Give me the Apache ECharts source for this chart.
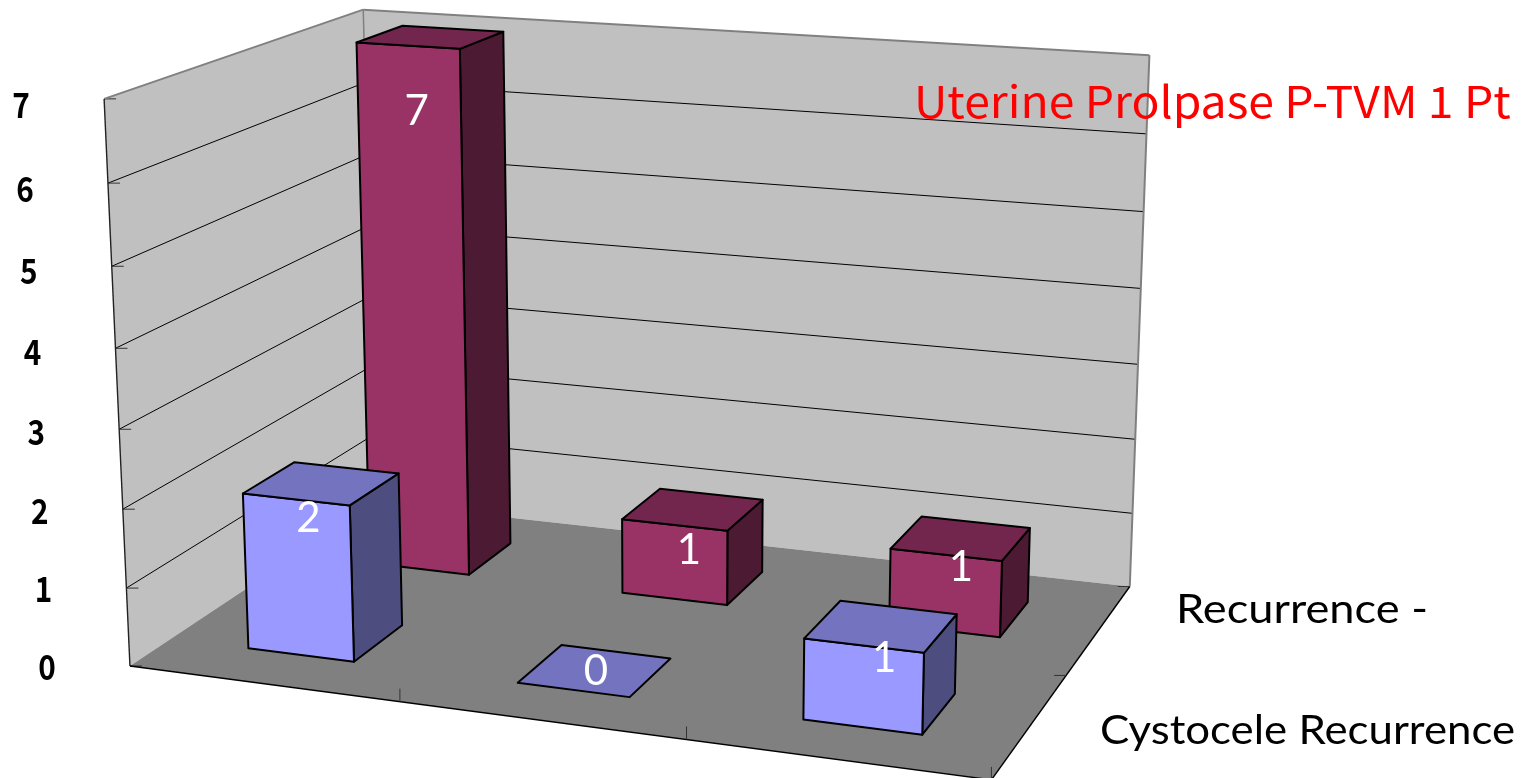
<!DOCTYPE html>
<html>
<head>
<meta charset="utf-8">
<style>html,body{margin:0;padding:0;background:#fff}#c{width:1531px;height:778px}</style>
<script src="https://cdn.jsdelivr.net/npm/echarts@6/dist/echarts.min.js"></script>
</head>
<body>
<div id="c"></div>
<script>
// ---- data ----
const seriesNames = ['Cystocele Recurrence', 'Recurrence -'];
const cystoceleValues = [2, 0, 1];
const recurrenceValues = [7, 1, 1];
const valueTicks = [0, 1, 2, 3, 4, 5, 6, 7];
const annotation = 'Uterine Prolpase P-TVM 1 Pt';

// ---- layout: camera calibration (world x=category, y=value, z=depth -> page pixels) ----
const CATS = 3, DEPTHS = 2, YMAX = 7;
const anchors = [
  [0,0,0,129,667],[1,0,0,400,702],[2,0,0,686,738],[3,0,0,992,779],
  [0,7,0,104,99],[0,6,0,108,182],[0,5,0,112,267],[0,4,0,116,349],[0,3,0,119.5,429],[0,2,0,122.5,509],[0,1,0,126.5,589],
  [0,0,2,376,501],[0,7,2,363,10],[3,0,2,1130,587],[3,7,2,1150,55],
  [3,6,2,1146,133],[3,5,2,1143,211],[3,4,2,1141,289],[3,3,2,1138,365],[3,2,2,1135,440],[3,1,2,1132.5,514]
];
function fitCamera(pts){
  const n = 11, A = [...Array(n)].map(()=>Array(n+1).fill(0));
  const add = (r,b)=>{ for(let i=0;i<n;i++){ for(let j=0;j<n;j++) A[i][j]+=r[i]*r[j]; A[i][n]+=r[i]*b; } };
  pts.forEach(([X,Y,Z,u0,v0])=>{
    const u=u0/1000, v=v0/1000;
    add([X,Y,Z,1,0,0,0,0,-u*X,-u*Y,-u*Z],u);
    add([0,0,0,0,X,Y,Z,1,-v*X,-v*Y,-v*Z],v);
  });
  for(let i=0;i<n;i++){
    let m=i; for(let k=i+1;k<n;k++) if(Math.abs(A[k][i])>Math.abs(A[m][i])) m=k;
    [A[i],A[m]]=[A[m],A[i]];
    for(let k=0;k<n;k++){ if(k===i) continue; const f=A[k][i]/A[i][i]; for(let j=i;j<=n;j++) A[k][j]-=f*A[i][j]; }
  }
  return A.map((r,i)=>r[n]/r[i]);
}
const P = fitCamera(anchors);
function pr(X,Y,Z){
  const w = P[8]*X+P[9]*Y+P[10]*Z+1;
  return [1000*(P[0]*X+P[1]*Y+P[2]*Z+P[3])/w, 1000*(P[4]*X+P[5]*Y+P[6]*Z+P[7])/w];
}
const BAR_X=[0.296,0.695], BAR_Z=[0.3,0.7];
const labelOffset = {'1_0':[-14,74],'0_0':[-13,35],'0_1':[1,1],'1_1':[-4,41],'0_2':[3,32],'1_2':[0,29]};
const palette = [
  {front:'#9999FF',top:'#7373BF',side:'#4D4D80'},
  {front:'#993366',top:'#73264D',side:'#4D1A33'}
];
const barData = [];
[recurrenceValues, cystoceleValues].forEach((vals,k)=>{
  const s = 1-k;
  vals.forEach((v,c)=>barData.push([c,s,v]));
});

const poly=(points,style)=>({type:'polygon',shape:{points},style});
const seg=(a,b,stroke,lineWidth)=>({type:'line',shape:{x1:a[0],y1:a[1],x2:b[0],y2:b[1]},style:{stroke,lineWidth,fill:null}});

function renderFrame(){
  const ch=[];
  ch.push(poly([pr(0,0,0),pr(0,YMAX,0),pr(0,YMAX,DEPTHS),pr(0,0,DEPTHS)],{fill:'#C0C0C0'}));
  ch.push(poly([pr(0,0,DEPTHS),pr(0,YMAX,DEPTHS),pr(CATS,YMAX,DEPTHS),pr(CATS,0,DEPTHS)],{fill:'#C0C0C0'}));
  ch.push(poly([pr(0,0,0),pr(CATS,0,0),pr(CATS,0,DEPTHS),pr(0,0,DEPTHS)],{fill:'#808080'}));
  valueTicks.forEach(t=>{
    if(t>0 && t<YMAX){
      ch.push(seg(pr(0,t,0),pr(0,t,DEPTHS),'#000',1));
      ch.push(seg(pr(0,t,DEPTHS),pr(CATS,t,DEPTHS),'#000',1));
    }
    const a=pr(0,t,0);
    ch.push(seg(a,[a[0]+12,a[1]],'#333',1));
  });
  const g='#808080';
  ch.push(seg(pr(0,YMAX,0),pr(0,YMAX,DEPTHS),g,2));
  ch.push(seg(pr(0,YMAX,DEPTHS),pr(CATS,YMAX,DEPTHS),g,2));
  ch.push(seg(pr(0,YMAX,DEPTHS),pr(0,0,DEPTHS),g,1.5));
  ch.push(seg(pr(CATS,YMAX,DEPTHS),pr(CATS,0,DEPTHS),g,2));
  ch.push(seg(pr(0,YMAX,0),pr(0,0,0),'#222',1.4));
  ch.push(seg(pr(0,0,0),pr(CATS,0,0),'#000',1.4));
  ch.push(seg(pr(CATS,0,0),pr(CATS,0,DEPTHS),'#000',1.4));
  for(let c=1;c<=CATS;c++){ const a=pr(c,0,0); ch.push(seg(a,[a[0],a[1]-13],'#333',1)); }
  for(let d=1;d<=DEPTHS;d++){ const a=pr(CATS,0,d); ch.push(seg(a,[a[0]-12,a[1]],'#333',1)); }
  return {type:'group',children:ch};
}
function renderBar(params,api){
  const c=api.value(0), s=api.value(1), v=api.value(2), col=palette[s];
  const x0=c+BAR_X[0],x1=c+BAR_X[1],z0=s+BAR_Z[0],z1=s+BAR_Z[1];
  const st=f=>({fill:f,stroke:'#000',lineWidth:2,lineJoin:'round'});
  const kids=[];
  if(v>0){
    kids.push(poly([pr(x1,0,z0),pr(x1,v,z0),pr(x1,v,z1),pr(x1,0,z1)],st(col.side)));
    kids.push(poly([pr(x0,0,z0),pr(x0,v,z0),pr(x1,v,z0),pr(x1,0,z0)],st(col.front)));
  }
  kids.push(poly([pr(x0,v,z0),pr(x1,v,z0),pr(x1,v,z1),pr(x0,v,z1)],st(col.top)));
  return {type:'group',children:kids};
}
function renderValueLabel(params,api){
  const c=api.value(0), s=api.value(1), v=api.value(2);
  const xm=c+(BAR_X[0]+BAR_X[1])/2, zm=s+(BAR_Z[0]+BAR_Z[1])/2, p=pr(xm,v,zm), o=labelOffset[s+'_'+c];
  return {type:'text',style:{x:p[0]+o[0],y:p[1]+o[1],text:String(v),fill:'#fff',font:'42px Lato',align:'center',verticalAlign:'middle'}};
}
function renderTick(params,api){
  const t=api.value(0), p=pr(0,t,0);
  return {type:'text',x:p[0]-83,y:p[1]+(t===0?1:(t/7*6)),scaleX:0.85,
    style:{x:0,y:0,text:String(t),fill:'#000',font:'bold 35px "Noto Sans CJK JP"',align:'center',verticalAlign:'middle'}};
}
const chart=echarts.init(document.getElementById('c'),null,{renderer:'canvas',width:1531,height:778});
chart.setOption({
  animation:false,
  backgroundColor:'#fff',
  series:[
    {type:'custom',coordinateSystem:'none',silent:true,z:1,data:[[0]],renderItem:renderFrame},
    {type:'custom',coordinateSystem:'none',silent:true,z:2,data:barData,renderItem:renderBar},
    {type:'custom',coordinateSystem:'none',silent:true,z:3,data:barData,renderItem:renderValueLabel},
    {type:'custom',coordinateSystem:'none',silent:true,z:3,data:valueTicks.map(t=>[t]),renderItem:renderTick}
  ],
  graphic:[
    {type:'text',x:1176,y:610,scaleX:1.13,z:5,silent:true,style:{x:0,y:0,text:seriesNames[1],fill:'#000',font:'40px Lato',verticalAlign:'middle'}},
    {type:'text',x:1100,y:731,scaleX:1.095,z:5,silent:true,style:{x:0,y:0,text:seriesNames[0],fill:'#000',font:'40px Lato',verticalAlign:'middle'}},
    {type:'text',x:914,y:101,scaleX:1.052,z:5,silent:true,style:{x:0,y:0,text:annotation,fill:'#FF0000',font:'44px "Noto Sans CJK JP"',verticalAlign:'middle'}}
  ]
});
</script>
</body>
</html>
